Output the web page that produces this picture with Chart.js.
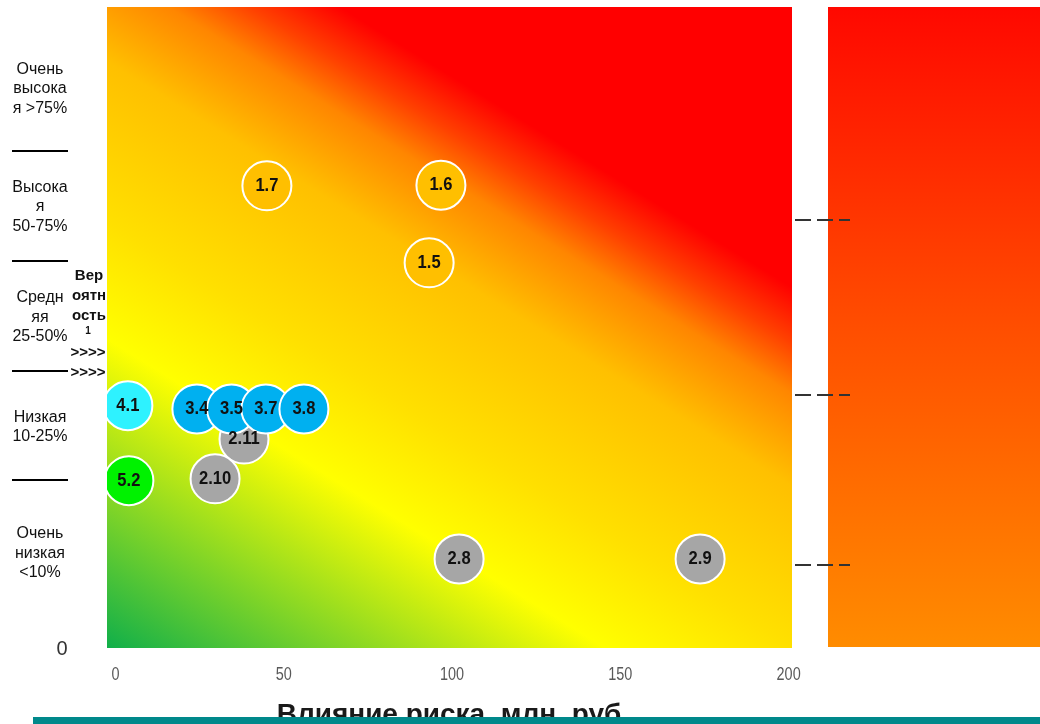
<!DOCTYPE html>
<html>
<head>
<meta charset="utf-8">
<script src="https://cdn.jsdelivr.net/npm/chart.js@4.4.1/dist/chart.umd.min.js"></script>
<style>
  body { margin: 0; background: #fff; }
  #wrap { width: 1040px; height: 724px; position: relative; }
</style>
</head>
<body>
<div id="wrap"><canvas id="chart"></canvas></div>
<script>
// x ticks (impact, mln rub)
const xTicks = [0, 50, 100, 150, 200];

// risk bubbles by group
const goldLabels = ['1.7', '1.6', '1.5'];
const goldX = [45.0, 96.7, 93.2];
const goldY = [72.1, 72.2, 60.1];

const cyanLabels = ['4.1'];
const cyanX = [3.7];
const cyanY = [37.8];

const blueLabels = ['3.4', '3.5', '3.7', '3.8'];
const blueX = [24.2, 34.5, 44.7, 56.0];
const blueY = [37.3, 37.3, 37.3, 37.3];

const greenLabels = ['5.2'];
const greenX = [4.0];
const greenY = [26.1];

const grayLabels = ['2.11', '2.10', '2.8', '2.9'];
const grayX = [38.2, 29.6, 102.1, 173.7];
const grayY = [32.6, 26.4, 13.9, 13.9];

// probability bands on the left
const bandNames = [
  ['Очень', 'высока', 'я >75%'],
  ['Высока', 'я', '50-75%'],
  ['Средн', 'яя', '25-50%'],
  ['Низкая', '10-25%'],
  ['Очень', 'низкая', '<10%']
];
const bandCenters = [87.2, 68.8, 51.6, 34.5, 14.8];
const bandLines = [77.5, 60.4, 43.2, 26.2];

// dashed marks on the right
const dashLevels = [66.8, 39.5, 12.9];

function points(xs, ys) {
  return xs.map((x, i) => ({ x: x, y: ys[i], r: 24.5 }));
}

function bubbleSet(name, labels, xs, ys, color) {
  return {
    label: name,
    data: points(xs, ys),
    names: labels,
    backgroundColor: color,
    borderColor: '#ffffff',
    borderWidth: 2,
    hoverBorderWidth: 2
  };
}

const backdrop = {
  id: 'backdrop',
  beforeDatasetsDraw(chart) {
    const ctx = chart.ctx;
    const a = chart.chartArea;
    const w = a.right - a.left, h = a.bottom - a.top;
    const g = ctx.createLinearGradient(a.left, a.bottom, a.left + 0.697 * w, a.bottom - 1.201 * h);
    g.addColorStop(0, '#10af4a');
    g.addColorStop(0.29, '#ffff00');
    g.addColorStop(0.40, '#ffe000');
    g.addColorStop(0.55, '#ffc000');
    g.addColorStop(0.637, '#ff8600');
    g.addColorStop(0.685, '#ff4000');
    g.addColorStop(0.737, '#ff0000');
    g.addColorStop(1, '#ff0000');
    ctx.save();
    ctx.fillStyle = g;
    ctx.fillRect(a.left, a.top, w, h);

    // right panel
    const px = a.right + 36;
    const g2 = ctx.createLinearGradient(0, a.top, 0, a.bottom);
    g2.addColorStop(0, '#ff0800');
    g2.addColorStop(0.5, '#ff4e00');
    g2.addColorStop(1, '#ff8c00');
    ctx.fillStyle = g2;
    ctx.fillRect(px, a.top, chart.width - px, h - 1);

    // dashed marks
    const y = chart.scales.y;
    ctx.strokeStyle = '#333';
    ctx.lineWidth = 2;
    ctx.setLineDash([16, 6]);
    dashLevels.forEach(v => {
      const py = Math.round(y.getPixelForValue(v));
      ctx.beginPath();
      ctx.moveTo(a.right + 3, py);
      ctx.lineTo(a.right + 58, py);
      ctx.stroke();
    });
    ctx.restore();
  },
  afterDatasetsDraw(chart) {
    const ctx = chart.ctx;
    ctx.save();
    ctx.font = 'bold 18px "Liberation Sans", Arial, sans-serif';
    ctx.fillStyle = '#111';
    ctx.textAlign = 'center';
    ctx.textBaseline = 'middle';
    chart.data.datasets.forEach((ds, i) => {
      chart.getDatasetMeta(i).data.forEach((el, j) => {
        ctx.save();
        ctx.translate(el.x, el.y);
        ctx.scale(0.92, 1);
        ctx.fillText(ds.names[j], 0, 0);
        ctx.restore();
      });
    });
    ctx.restore();
  },
  afterDraw(chart) {
    const ctx = chart.ctx;
    const a = chart.chartArea;
    const x = chart.scales.x, y = chart.scales.y;
    ctx.save();

    // x tick labels
    ctx.fillStyle = '#595959';
    ctx.textAlign = 'center';
    ctx.textBaseline = 'middle';
    ctx.font = '19px "Liberation Sans", Arial, sans-serif';
    xTicks.forEach(v => {
      ctx.save();
      ctx.translate(x.getPixelForValue(v), a.bottom + 27);
      ctx.scale(0.76, 1);
      ctx.fillText(String(v), 0, 0);
      ctx.restore();
    });

    // y zero
    ctx.fillStyle = '#333';
    ctx.font = '20px "Liberation Sans", Arial, sans-serif';
    ctx.fillText('0', 62, y.getPixelForValue(0) + 1);

    // band labels
    ctx.fillStyle = '#111';
    ctx.font = '16px "Liberation Sans", Arial, sans-serif';
    bandNames.forEach((lines, i) => {
      const cy = y.getPixelForValue(bandCenters[i]);
      lines.forEach((t, k) => {
        ctx.fillText(t, 40, cy + (k - (lines.length - 1) / 2) * 19.3);
      });
    });
    ctx.strokeStyle = '#000';
    ctx.lineWidth = 2;
    bandLines.forEach(v => {
      const py = Math.round(y.getPixelForValue(v));
      ctx.beginPath();
      ctx.moveTo(12, py);
      ctx.lineTo(68, py);
      ctx.stroke();
    });

    // axis name
    ctx.font = 'bold 15px "Liberation Sans", Arial, sans-serif';
    ctx.fillText('Вер', 89, 276);
    ctx.fillText('оятн', 89, 296);
    ctx.fillText('ость', 89, 316);
    ctx.font = 'bold 10px "Liberation Sans", Arial, sans-serif';
    ctx.fillText('1', 88, 331);
    ctx.font = 'bold 15px "Liberation Sans", Arial, sans-serif';
    ctx.fillText('>>>>', 88, 353);
    ctx.fillText('>>>>', 88, 373);

    // x title, cut by the footer bar
    ctx.fillStyle = '#1a1a1a';
    ctx.textBaseline = 'alphabetic';
    ctx.font = 'bold 28px "Liberation Sans", Arial, sans-serif';
    ctx.fillText('Влияние риска, млн. руб', 449, 723);
    ctx.fillStyle = '#00898b';
    ctx.fillRect(33, 717, chart.width - 33, 7);
    ctx.restore();
  }
};

new Chart(document.getElementById('chart'), {
  type: 'bubble',
  data: {
    datasets: [
      bubbleSet('1', goldLabels, goldX, goldY, '#ffbf00'),
      bubbleSet('4', cyanLabels, cyanX, cyanY, '#2ef2ff'),
      bubbleSet('3', blueLabels, blueX, blueY, '#00b0f0'),
      bubbleSet('5', greenLabels, greenX, greenY, '#00f200'),
      bubbleSet('2', grayLabels, grayX, grayY, '#a6a6a6')
    ]
  },
  options: {
    responsive: true,
    maintainAspectRatio: false,
    animation: false,
    layout: { autoPadding: false, padding: { left: 107, right: 248, top: 7, bottom: 76 } },
    plugins: { legend: { display: false }, tooltip: { enabled: false } },
    scales: {
      x: { type: 'linear', min: -2.5, max: 201, display: false },
      y: { type: 'linear', min: 0, max: 100, display: false }
    }
  },
  plugins: [backdrop]
});
</script>
</body>
</html>
